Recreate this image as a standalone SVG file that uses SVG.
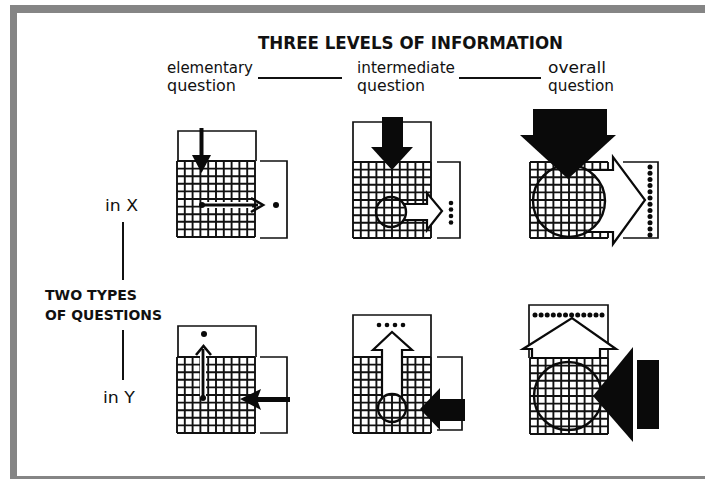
<svg xmlns="http://www.w3.org/2000/svg" xmlns:xlink="http://www.w3.org/1999/xlink" width="705" height="479" viewBox="0 0 705 479">
<style>
.t{font-family:"DejaVu Sans Condensed","DejaVu Sans",sans-serif;fill:#111}
.title{font-size:18px;font-weight:bold}
.lab{font-size:15px}
.side{font-size:14px;font-weight:bold}
.gl{stroke:#111;stroke-width:1.9;fill:none}
.br{stroke:#111;stroke-width:1.7;fill:none}
.k{fill:#0a0a0a}
.w{fill:#fff;stroke:#0a0a0a;stroke-width:2.2}
.c{fill:none;stroke:#0a0a0a;stroke-width:2.4}
.ln{stroke:#111;stroke-width:2;fill:none}
</style>
<defs>
<g id="grid"><rect width="78" height="76" fill="#fff"/><path class="gl" d="M0 0V76M7.8 0V76M15.6 0V76M23.4 0V76M31.2 0V76M39 0V76M46.8 0V76M54.6 0V76M62.4 0V76M70.2 0V76M78 0V76M0 0H78M0 7.6H78M0 15.2H78M0 22.8H78M0 30.4H78M0 38H78M0 45.6H78M0 53.2H78M0 60.8H78M0 68.4H78M0 76H78"/></g>
<mask id="mB1" maskUnits="userSpaceOnUse" x="0" y="0" width="705" height="479"><rect width="705" height="479" fill="#fff"/><circle cx="391" cy="212" r="14" fill="#000"/></mask>
<mask id="mC1" maskUnits="userSpaceOnUse" x="0" y="0" width="705" height="479"><rect width="705" height="479" fill="#fff"/><circle cx="569" cy="201" r="35" fill="#000"/></mask>
<mask id="mB2" maskUnits="userSpaceOnUse" x="0" y="0" width="705" height="479"><rect width="705" height="479" fill="#fff"/><circle cx="392" cy="408" r="13" fill="#000"/></mask>
</defs>
<rect width="705" height="479" fill="#fff"/>
<g id="frame" fill="#858585">
<rect x="10" y="5" width="695" height="8"/>
<rect x="10" y="5" width="7" height="474"/>
<rect x="10" y="476" width="695" height="3"/>
</g>
<g id="header">
<text class="t title" x="258" y="49" textLength="305" lengthAdjust="spacingAndGlyphs">THREE LEVELS OF INFORMATION</text>
<text class="t lab" x="167" y="73" textLength="86" lengthAdjust="spacingAndGlyphs">elementary</text>
<text class="t lab" x="167" y="91" textLength="69" lengthAdjust="spacingAndGlyphs">question</text>
<text class="t lab" x="357" y="73" textLength="98" lengthAdjust="spacingAndGlyphs">intermediate</text>
<text class="t lab" x="357" y="91" textLength="68" lengthAdjust="spacingAndGlyphs">question</text>
<text class="t lab" x="548" y="73" textLength="58" lengthAdjust="spacingAndGlyphs">overall</text>
<text class="t lab" x="548" y="91" textLength="66" lengthAdjust="spacingAndGlyphs">question</text>
</g>
<g id="connectors">
<path class="ln" d="M258 78H342M459 78H541"/>
<path class="ln" d="M123 222V280M123 330V380"/>
</g>
<g id="side-labels">
<text class="t lab" x="105" y="211" textLength="33" lengthAdjust="spacingAndGlyphs">in X</text>
<text class="t side" x="45" y="300" textLength="92" lengthAdjust="spacingAndGlyphs">TWO TYPES</text>
<text class="t side" x="45" y="320" textLength="117" lengthAdjust="spacingAndGlyphs">OF QUESTIONS</text>
<text class="t lab" x="103" y="403" textLength="32" lengthAdjust="spacingAndGlyphs">in Y</text>
</g>
<g id="elementary-x">
<path class="br" d="M178 161V131H256V161M260 161H287V238H260"/>
<use xlink:href="#grid" x="177" y="161"/>
<rect x="199.5" y="128" width="4" height="30" class="k"/>
<polygon class="k" points="192,155 211,155 201.5,173"/>
<rect x="202" y="202" width="50" height="6" fill="#fff"/>
<path d="M202 205H258" stroke="#0a0a0a" stroke-width="2.8"/>
<polyline points="251,198 263,205 251,212" fill="none" stroke="#0a0a0a" stroke-width="2.6"/>
<circle cx="202" cy="205" r="3" class="k"/>
<circle cx="276" cy="205" r="3" class="k"/>
</g>
<g id="intermediate-x">
<path class="br" d="M353 162V122H431V162M437 162H460V238H437"/>
<use xlink:href="#grid" x="353" y="162"/>
<rect x="382" y="117" width="21" height="31" class="k"/>
<polygon class="k" points="371,147 413,147 392,170"/>
<polygon class="w" mask="url(#mB1)" points="398,204 427,204 427,193 442,211 427,230 427,220 398,220"/>
<circle cx="391" cy="212" r="15" class="c"/>
<g class="k"><circle cx="451" cy="203" r="2.3"/><circle cx="451" cy="209.5" r="2.3"/><circle cx="451" cy="216" r="2.3"/><circle cx="451" cy="222.5" r="2.3"/></g>
</g>
<g id="overall-x">
<path class="br" d="M623 162H658V238H623"/>
<use xlink:href="#grid" x="530" y="162"/>
<polygon class="w" mask="url(#mC1)" points="578,170 613,170 613,157 645,200 613,244 613,232 578,232"/>
<circle cx="569" cy="201" r="36" class="c" stroke-width="2.8"/>
<rect x="533" y="109" width="74" height="27" class="k"/>
<polygon class="k" points="520,135 616,135 568,179"/>
<g class="k"><circle cx="650" cy="167" r="2.5"/><circle cx="650" cy="173.2" r="2.5"/><circle cx="650" cy="179.4" r="2.5"/><circle cx="650" cy="185.6" r="2.5"/><circle cx="650" cy="191.8" r="2.5"/><circle cx="650" cy="198" r="2.5"/><circle cx="650" cy="204.2" r="2.5"/><circle cx="650" cy="210.4" r="2.5"/><circle cx="650" cy="216.6" r="2.5"/><circle cx="650" cy="222.8" r="2.5"/><circle cx="650" cy="229" r="2.5"/><circle cx="650" cy="235" r="2.5"/></g>
</g>
<g id="elementary-y">
<path class="br" d="M178 357V326H256V357M260 357H287V433H260"/>
<use xlink:href="#grid" x="177" y="357"/>
<rect x="200" y="349" width="6" height="49" fill="#fff"/>
<path d="M203 349V398" stroke="#0a0a0a" stroke-width="2.8"/>
<polyline points="196,355 203.5,346 211,355" fill="none" stroke="#0a0a0a" stroke-width="2.6"/>
<circle cx="203" cy="398" r="3" class="k"/>
<circle cx="204" cy="334" r="3" class="k"/>
<polygon class="k" points="240,399 261,389 258,397 290,397 290,402 258,402 261,410"/>
</g>
<g id="intermediate-y">
<path class="br" d="M353 357V315H431V357M437 357H462V430H437"/>
<use xlink:href="#grid" x="353" y="357"/>
<polygon class="w" mask="url(#mB2)" points="382,404 382,350 373,350 392,332 412,350 402,350 402,404"/>
<circle cx="392" cy="408" r="14" class="c"/>
<g class="k"><circle cx="379" cy="325" r="2.3"/><circle cx="387" cy="325" r="2.3"/><circle cx="395" cy="325" r="2.3"/><circle cx="403" cy="325" r="2.3"/></g>
<polygon class="k" points="420,409 440,388 440,399 465,399 465,421 440,421 440,430"/>
</g>
<g id="overall-y">
<path class="br" d="M529 358V305H608V358"/>
<use xlink:href="#grid" x="530" y="358"/>
<polygon class="w" points="532,358 532,349 523,349 572,318 616,349 600,349 600,358"/>
<circle cx="568" cy="396" r="34" class="c" stroke-width="2.8"/>
<g class="k"><circle cx="535" cy="315" r="2.5"/><circle cx="541.1" cy="315" r="2.5"/><circle cx="547.2" cy="315" r="2.5"/><circle cx="553.3" cy="315" r="2.5"/><circle cx="559.4" cy="315" r="2.5"/><circle cx="565.5" cy="315" r="2.5"/><circle cx="571.6" cy="315" r="2.5"/><circle cx="577.7" cy="315" r="2.5"/><circle cx="583.8" cy="315" r="2.5"/><circle cx="589.9" cy="315" r="2.5"/><circle cx="596" cy="315" r="2.5"/><circle cx="602" cy="315" r="2.5"/></g>
<polygon class="k" points="593,396 633,347 633,442"/>
<rect x="637" y="360" width="22" height="69" class="k"/>
</g>
</svg>
